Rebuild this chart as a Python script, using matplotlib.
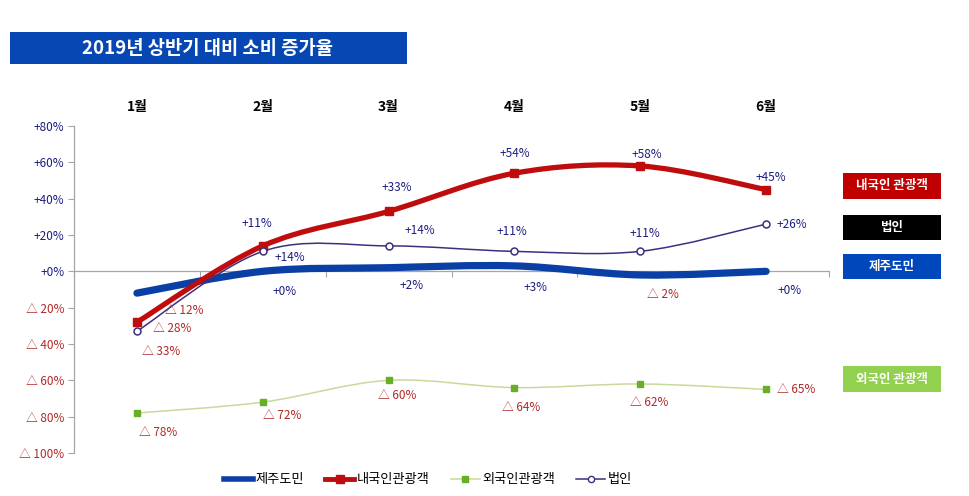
import numpy as np
import matplotlib
matplotlib.use("Agg")
import matplotlib.pyplot as plt
from matplotlib.path import Path
from matplotlib.patches import PathPatch, Rectangle
from matplotlib.lines import Line2D

plt.rcParams['font.family'] = ['Noto Sans CJK KR', 'DejaVu Sans']

# ---------------- data ----------------
months = ['1월', '2월', '3월', '4월', '5월', '6월']
jeju = [-12, 0, 2, 3, -2, 0]            # 제주도민
domestic = [-28, 14, 33, 54, 58, 45]    # 내국인관광객
foreign = [-78, -72, -60, -64, -62, -65]  # 외국인관광객
corp = [-33, 11, 14, 11, 11, 26]        # 법인
yticks = [-100, -80, -60, -40, -20, 0, 20, 40, 60, 80]
title = '2019년 상반기 대비 소비 증가율'

# ---------------- styles ----------------
W, H = 970, 496
POS_C = '#1c1c80'
NEG_C = '#b02828'
C_BLUE = '#0a3fa6'
C_RED = '#bf0d0d'
C_GREEN_L = '#c9d99c'
C_GREEN_M = '#6aad26'
C_PURPLE = '#3d2f80'

# label offsets in pixels (dx, dy) per point
off_jeju = [(47, -17), (22, -20), (23, -18), (21, -22), (23, -20), (23, -19)]
off_dom = [(35, -6), (27, -12), (8, 24), (0, 20), (7, 11), (5, 12)]
off_for = [(21, -19), (19, -13), (9, -15), (7, -20), (9, -19), (30, 0)]
off_corp = [(24, -20), (-6, 28), (31, 15), (-3, 20), (5, 18), (26, 0)]


def fmt(v):
    return f'+{v}%' if v >= 0 else f'△ {abs(v)}%'


def smooth_path(xs, ys):
    pts = np.column_stack([xs, ys]).astype(float)
    n = len(pts)
    verts = [pts[0]]
    codes = [Path.MOVETO]
    for i in range(n - 1):
        p0 = pts[i - 1] if i > 0 else pts[i]
        p1 = pts[i]
        p2 = pts[i + 1]
        p3 = pts[i + 2] if i + 2 < n else pts[i + 1]
        c1 = p1 + (p2 - p0) / 6.0
        c2 = p2 - (p3 - p1) / 6.0
        verts += [c1, c2, p2]
        codes += [Path.CURVE4] * 3
    return Path(verts, codes)


fig = plt.figure(figsize=(W / 100, H / 100), dpi=100)
ax = fig.add_axes([74 / W, 1 - 453 / H, (829 - 74) / W, (453 - 126) / H])
x = np.arange(len(months))

series = [
    (foreign, dict(color=C_GREEN_L, lw=1.1), dict(marker='s', ms=5, mfc=C_GREEN_M, mec=C_GREEN_M), off_for, 2),
    (jeju, dict(color=C_BLUE, lw=5.2, capstyle='round'), None, off_jeju, 3),
    (domestic, dict(color=C_RED, lw=3.8, capstyle='butt'), dict(marker='s', ms=5.5, mfc=C_RED, mec=C_RED), off_dom, 4),
    (corp, dict(color=C_PURPLE, lw=1.1), dict(marker='o', ms=5, mfc='white', mec=C_PURPLE, mew=1.1), off_corp, 5),
]

for vals, lstyle, mstyle, offs, z in series:
    patch = PathPatch(smooth_path(x, vals), fill=False, edgecolor=lstyle['color'],
                      lw=lstyle['lw'], capstyle=lstyle.get('capstyle', 'butt'), zorder=z)
    ax.add_patch(patch)
    if mstyle:
        ax.plot(x, vals, linestyle='none', zorder=z + 0.5, **mstyle)
    for i, v in enumerate(vals):
        ax.annotate(fmt(v), (x[i], v), xytext=offs[i], textcoords='offset pixels',
                    ha='center', va='center', fontsize=8.5,
                    color=POS_C if v >= 0 else NEG_C, zorder=10)

ax.set_xlim(-0.5, len(months) - 0.5)
ax.set_ylim(-100, 80)
ax.set_yticks(yticks)
ax.set_yticklabels([fmt(v) for v in yticks], fontsize=8.5)
for lab, v in zip(ax.get_yticklabels(), yticks):
    lab.set_color(POS_C if v >= 0 else NEG_C)
ax.set_xticks(np.arange(-0.5, len(months), 1.0))
ax.set_xticklabels([])
ax.spines['top'].set_visible(False)
ax.spines['right'].set_visible(False)
ax.spines['bottom'].set_position(('data', 0))
for s in ('left', 'bottom'):
    ax.spines[s].set_color('#a6a6a6')
    ax.spines[s].set_linewidth(0.9)
ax.tick_params(axis='y', length=4, color='#a6a6a6', pad=3)
ax.tick_params(axis='x', length=4, color='#a6a6a6', direction='out')

# month labels at top
for i, m in enumerate(months):
    ax.annotate(m, (x[i], 80), xytext=(0, 19), textcoords='offset pixels',
                ha='center', va='center', fontsize=10, fontweight='bold', color='black',
                annotation_clip=False)

# title box
fig.add_artist(Rectangle((10 / W, 1 - 64 / H), (407 - 10) / W, (64 - 32) / H,
                         transform=fig.transFigure, facecolor='#0747b3', edgecolor='none'))
fig.text(208 / W, 1 - 48 / H, title, ha='center', va='center', color='white',
         fontsize=13.5, fontweight='bold')

# right side labels
boxes = [('내국인 관광객', '#c00000', 173, 199),
         ('법인', '#000000', 215, 240),
         ('제주도민', '#0047bb', 254, 279),
         ('외국인 관광객', '#92d050', 366, 392)]
for txt, col, y1, y2 in boxes:
    fig.add_artist(Rectangle((843 / W, 1 - y2 / H), (941 - 843) / W, (y2 - y1) / H,
                             transform=fig.transFigure, facecolor=col, edgecolor='none'))
    fig.text(892 / W, 1 - (y1 + y2) / 2 / H, txt, ha='center', va='center',
             color='white', fontsize=9, fontweight='bold')

# bottom legend
handles = [
    Line2D([], [], color=C_BLUE, lw=4),
    Line2D([], [], color=C_RED, lw=3.5, marker='s', ms=5.5, mfc=C_RED, mec=C_RED),
    Line2D([], [], color=C_GREEN_L, lw=1.1, marker='s', ms=4.5, mfc=C_GREEN_M, mec=C_GREEN_M),
    Line2D([], [], color=C_PURPLE, lw=1.1, marker='o', ms=4.5, mfc='white', mec=C_PURPLE),
]
names = ['제주도민', '내국인관광객', '외국인관광객', '법인']
fig.legend(handles, names, loc='center', bbox_to_anchor=(428 / W, 1 - 480 / H), ncol=4,
           frameon=False, fontsize=9.5, handlelength=2.2, handletextpad=0.2,
           columnspacing=1.6)

fig.savefig('out.png', dpi=100)
